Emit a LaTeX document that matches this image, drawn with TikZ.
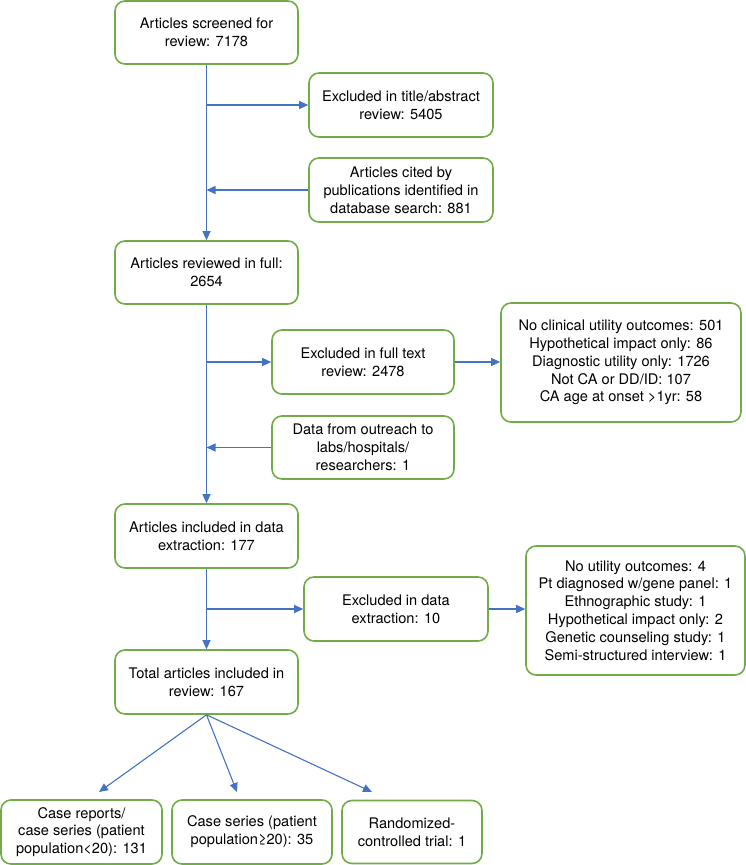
\documentclass[tikz,border=0pt]{standalone}
\usepackage{fontspec}
\setmainfont{TeX Gyre Heros}
\usetikzlibrary{arrows.meta}
\definecolor{boxgreen}{RGB}{112,173,71}
\definecolor{arrblue}{RGB}{68,114,196}
\begin{document}
\begin{tikzpicture}[x=1pt,y=-1pt,
  box/.style={draw=boxgreen,line width=1.6pt,rounded corners=10pt,align=center,
    inner sep=0pt,font=\fontsize{14.6}{17.8}\selectfont},
  conn/.style={draw=arrblue,line width=1.1pt},
  arr/.style={conn,-{Triangle[length=9pt,width=8pt]}}]
\useasboundingbox (0,0) rectangle (746,865);
\node[box,minimum width=183pt,minimum height=63pt] (b1) at (206.5,32.5) {Articles screened for\\review: 7178};
\node[box,minimum width=184pt,minimum height=64pt] (b2) at (401,105) {Excluded in title/abstract\\review: 5405};
\node[box,minimum width=184pt,minimum height=64pt] (b3) at (401,190) {Articles cited by\\publications identified in\\database search: 881};
\node[box,minimum width=183pt,minimum height=63pt] (b4) at (206.5,272.5) {Articles reviewed in full:\\2654};
\node[box,minimum width=182pt,minimum height=64pt] (b5) at (363,362) {Excluded in full text\\review: 2478};
\node[box,minimum width=240pt,minimum height=119pt] (r1) at (621,362.5) {No clinical utility outcomes: 501\\Hypothetical impact only: 86\\Diagnostic utility only: 1726\\Not CA or DD/ID: 107\\CA age at onset \textgreater1yr: 58};
\node[box,minimum width=182pt,minimum height=63pt] (b7) at (363,447.5) {Data from outreach to\\labs/hospitals/\\researchers: 1};
\node[box,minimum width=183pt,minimum height=64pt] (b8) at (206.5,536) {Articles included in data\\extraction: 177};
\node[box,minimum width=184pt,minimum height=64pt] (b9) at (396,609) {Excluded in data\\extraction: 10};
\node[box,minimum width=219pt,minimum height=129pt] (r2) at (635.5,610.5) {No utility outcomes: 4\\Pt diagnosed w/gene panel: 1\\Ethnographic study: 1\\Hypothetical impact only: 2\\Genetic counseling study: 1\\Semi-structured interview: 1};
\node[box,minimum width=183pt,minimum height=64pt] (b11) at (206.5,682) {Total articles included in\\review: 167};
\node[box,minimum width=161pt,minimum height=64pt] (c1) at (81.5,832) {Case reports/\\case series (patient\\population\textless20): 131};
\node[box,minimum width=160pt,minimum height=64pt] (c2) at (252,832) {Case series (patient\\population≥20): 35};
\node[box,minimum width=140pt,minimum height=63pt] (c3) at (412,832) {Randomized-\\controlled trial: 1};
\coordinate (t1) at (99,792);
\coordinate (t2) at (237,792);
\coordinate (t3) at (372,792);
% main line
\draw[arr] (b1.south) -- (b4.north);
\draw[arr] (b1.south |- b2.west) -- (b2.west);
\draw[arr] (b3.west) -- (b1.south |- b3.west);
\draw[arr] (b4.south) -- (b8.north);
\draw[arr] (b4.south |- b5.west) -- (b5.west);
\draw[arr] (b5.east) -- (r1.west |- b5.east);
\draw[arr] (b7.west) -- (b4.south |- b7.west);
\draw[arr] (b8.south) -- (b11.north);
\draw[arr] (b8.south |- b9.west) -- (b9.west);
\draw[arr] (b9.east) -- (r2.west |- b9.east);
\draw[arr] (b11.south) -- (t1);
\draw[arr] (b11.south) -- (t2);
\draw[arr] (b11.south) -- (t3);
\end{tikzpicture}
\end{document}
